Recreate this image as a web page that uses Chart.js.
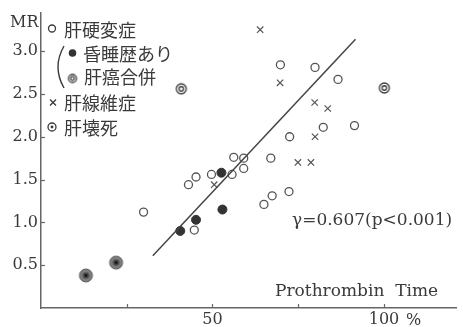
<!DOCTYPE html>
<html><head><meta charset="utf-8">
<script src="https://cdn.jsdelivr.net/npm/chart.js@4.4.0/dist/chart.umd.min.js"></script>
<style>html,body{margin:0;padding:0;background:#fff;}canvas{display:block}</style>
</head><body>
<canvas id="c" width="463" height="327"></canvas>
<script>
// ---- data ----
const cirrhosisX = [29.9, 43.0, 45.2, 49.7, 44.7, 55.7, 56.2, 59.1, 59.1, 67.0, 65.0, 67.4, 72.3, 72.5, 82.3, 91.4, 69.8, 79.9, 86.6];
const cirrhosisY = [1.12, 1.44, 1.53, 1.56, 0.91, 1.56, 1.76, 1.75, 1.63, 1.75, 1.21, 1.31, 1.36, 2.00, 2.11, 2.13, 2.84, 2.81, 2.67];
const comaX = [40.6, 45.2, 52.9, 52.6];
const comaY = [0.90, 1.03, 1.15, 1.58];
const cancerX = [40.9, 100.1];
const cancerY = [2.56, 2.57];
const fibrosisX = [63.9, 69.7, 79.8, 83.6, 79.9, 74.9, 78.7, 50.5];
const fibrosisY = [3.25, 2.63, 2.40, 2.33, 2.00, 1.70, 1.70, 1.44];
const necrosisX = [13.1, 21.9];
const necrosisY = [0.38, 0.53];
const regressionX = [32.6, 91.7];
const regressionY = [0.61, 3.14];
const xTickValues = [25, 50, 75, 100];
const xTickLabels = {50: '50', 100: '100'};
const yTickValues = [0.5, 1.0, 1.5, 2.0, 2.5, 3.0];
const legendLabels = ['肝硬変症', '昏睡歴あり', '肝癌合併', '肝線維症', '肝壊死'];
const axisTitleY = 'MR';
const axisTitleX = 'Prothrombin  Time';
const statText = 'γ=0.607(p<0.001)';

const zip = (xs, ys) => xs.map((x, i) => ({x, y: ys[i]}));
const INK = '#3a3a3a';

function makeDouble(r) {
  const c = document.createElement('canvas');
  c.width = c.height = 2 * r + 4;
  const g = c.getContext('2d'); const m = r + 2;
  g.strokeStyle = INK; g.lineWidth = 1.3;
  g.beginPath(); g.arc(m, m, r, 0, Math.PI * 2); g.stroke();
  g.beginPath(); g.arc(m, m, r * 0.45, 0, Math.PI * 2); g.stroke();
  return c;
}
function makeShaded(r) {
  const c = document.createElement('canvas');
  c.width = c.height = 2 * r + 4;
  const g = c.getContext('2d'); const m = r + 2;
  g.fillStyle = '#7d7d7d'; g.strokeStyle = '#5a5a5a'; g.lineWidth = 1;
  g.beginPath(); g.arc(m, m, r, 0, Math.PI * 2); g.fill(); g.stroke();
  g.fillStyle = '#4a4a4a';
  g.beginPath(); g.arc(m, m, r * 0.5, 0, Math.PI * 2); g.fill();
  g.fillStyle = '#111';
  g.beginPath(); g.arc(m, m, 1.4, 0, Math.PI * 2); g.fill();
  return c;
}
function makeDotCircle(r) {
  const c = document.createElement('canvas');
  c.width = c.height = 2 * r + 4;
  const g = c.getContext('2d'); const m = r + 2;
  g.strokeStyle = INK; g.lineWidth = 1.3;
  g.beginPath(); g.arc(m, m, r, 0, Math.PI * 2); g.stroke();
  g.fillStyle = INK;
  g.beginPath(); g.arc(m, m, 1.4, 0, Math.PI * 2); g.fill();
  return c;
}
const doubleImg = makeDouble(5);
const doubleSmall = makeDouble(4);
const shadedImg = makeShaded(6.5);
const dotCircleImg = makeDotCircle(4);

const decor = {
  id: 'decor',
  afterDraw(chart) {
    const ctx = chart.ctx;
    const xs = chart.scales.x, ys = chart.scales.y;
    const a = chart.chartArea;
    ctx.save();
    ctx.strokeStyle = '#666'; ctx.lineWidth = 1.2;
    // inner tick marks
    yTickValues.forEach(v => {
      const py = Math.round(ys.getPixelForValue(v)) + 0.5;
      ctx.beginPath(); ctx.moveTo(a.left, py); ctx.lineTo(a.left + 4, py); ctx.stroke();
    });
    xTickValues.forEach(v => {
      const px = Math.round(xs.getPixelForValue(v)) + 0.5;
      ctx.beginPath(); ctx.moveTo(px, a.bottom); ctx.lineTo(px, a.bottom - 4); ctx.stroke();
    });
    ctx.fillStyle = INK;
    ctx.textBaseline = 'middle';
    // percent sign after 100
    ctx.font = '16px "DejaVu Serif"';
    ctx.textAlign = 'left';
    ctx.fillText('%', xs.getPixelForValue(100) + 22, 321);
    // axis titles / stat
    ctx.font = '16px "DejaVu Serif"';
    ctx.fillText(axisTitleY, 10, 23);
    ctx.font = '17px "DejaVu Serif"';
    ctx.fillText(axisTitleX, 275, 292);
    ctx.fillText(statText, 292, 221);
    // legend markers
    ctx.strokeStyle = INK; ctx.lineWidth = 1.3;
    ctx.beginPath(); ctx.arc(52, 28.5, 3.5, 0, Math.PI * 2); ctx.stroke();
    ctx.fillStyle = '#333';
    ctx.beginPath(); ctx.arc(72.5, 53, 3.8, 0, Math.PI * 2); ctx.fill();
    ctx.drawImage(doubleSmall, 72.5 - doubleSmall.width / 2, 78.5 - doubleSmall.height / 2);
    ctx.beginPath();
    ctx.moveTo(50, 99.5); ctx.lineTo(56, 105.5); ctx.moveTo(56, 99.5); ctx.lineTo(50, 105.5); ctx.stroke();
    ctx.drawImage(dotCircleImg, 52 - dotCircleImg.width / 2, 127 - dotCircleImg.height / 2);
    // parenthesis
    ctx.lineWidth = 1.4;
    ctx.beginPath(); ctx.moveTo(64, 46); ctx.quadraticCurveTo(52, 67, 64, 88); ctx.stroke();
    // legend labels
    ctx.font = '18px "Noto Sans CJK JP"';
    ctx.fillStyle = INK;
    ctx.fillText(legendLabels[0], 64, 30);
    ctx.fillText(legendLabels[1], 83, 54);
    ctx.fillText(legendLabels[2], 84, 77);
    ctx.fillText(legendLabels[3], 64, 103);
    ctx.fillText(legendLabels[4], 64, 128);
    ctx.restore();
  }
};

new Chart(document.getElementById('c'), {
  type: 'scatter',
  data: {
    datasets: [
      {type: 'line', data: zip(regressionX, regressionY), borderColor: '#444', borderWidth: 1.5, pointRadius: 0, fill: false},
      {data: zip(cirrhosisX, cirrhosisY), pointStyle: 'circle', radius: 4, borderWidth: 1.3, borderColor: '#555', backgroundColor: 'rgba(0,0,0,0)'},
      {data: zip(comaX, comaY), pointStyle: 'circle', radius: 4.5, borderWidth: 1, borderColor: '#333', backgroundColor: '#333'},
      {data: zip(cancerX, cancerY), pointStyle: doubleImg, radius: 5},
      {data: zip(fibrosisX, fibrosisY), pointStyle: 'crossRot', radius: 4.5, borderWidth: 1.2, borderColor: '#555'},
      {data: zip(necrosisX, necrosisY), pointStyle: shadedImg, radius: 6}
    ]
  },
  options: {
    responsive: false,
    animation: false,
    devicePixelRatio: 1,
    layout: {padding: {top: 5, right: 0, left: 0, bottom: 0}},
    plugins: {legend: {display: false}, tooltip: {enabled: false}},
    scales: {
      x: {
        type: 'linear', min: 0, max: 121,
        grid: {display: false, drawTicks: false},
        border: {color: '#666', width: 1.5},
        afterFit: s => { s.height = 19; },
        afterBuildTicks: s => { s.ticks = xTickValues.map(v => ({value: v})); },
        ticks: {autoSkip: false, maxRotation: 0, padding: 2, color: INK,
          font: {family: 'DejaVu Serif', size: 16},
          callback: v => xTickLabels[v] || ''}
      },
      y: {
        min: 0, max: 3.45,
        grid: {display: false, drawTicks: false},
        border: {color: '#666', width: 1.5},
        afterFit: s => { s.width = 41; },
        afterBuildTicks: s => { s.ticks = yTickValues.map(v => ({value: v})); },
        ticks: {autoSkip: false, padding: 3, color: INK,
          font: {family: 'DejaVu Serif', size: 16},
          callback: v => v.toFixed(1)}
      }
    }
  },
  plugins: [decor]
});
</script>
</body></html>
